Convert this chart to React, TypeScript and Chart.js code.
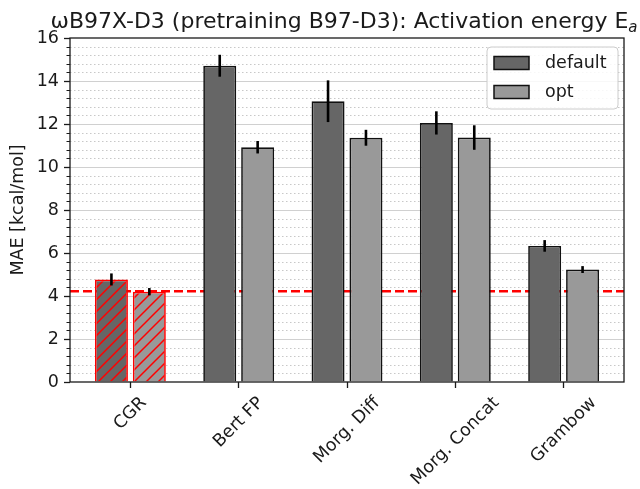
import React, { useEffect, useRef } from 'react';
import { Chart, registerables } from 'chart.js';

Chart.register(...registerables);

const categories = ['CGR', 'Bert FP', 'Morg. Diff', 'Morg. Concat', 'Grambow'];
const defaultMAE = [4.77, 14.71, 13.06, 12.05, 6.33];
const defaultErr = [0.28, 0.51, 0.97, 0.54, 0.27];
const optMAE = [4.2, 10.92, 11.36, 11.37, 5.23];
const optErr = [0.17, 0.29, 0.37, 0.57, 0.16];
const baselineMAE = 4.22;
const yMajorTicks = [0, 2, 4, 6, 8, 10, 12, 14, 16];
const yMinorStep = 0.4;
const seriesLabels = ['default', 'opt'];
const titleMain = 'ωB97X-D3 (pretraining B97-D3): Activation energy E';
const titleSub = 'a';
const yLabel = 'MAE [kcal/mol]';

const FONT = '"DejaVu Sans", sans-serif';
const FS = 17.5;
const DARK = '#666666';
const LIGHT = '#999999';
const INK = '#1a1a1a';

export default function App() {
  const ref = useRef<HTMLCanvasElement | null>(null);
  useEffect(() => {
    const canvas = ref.current!;
    const c2d = canvas.getContext('2d')!;
    const makeHatch = (base: string) => {
      const n = 12;
      const t = document.createElement('canvas');
      t.width = n; t.height = n;
      const g = t.getContext('2d')!;
      g.fillStyle = base; g.fillRect(0, 0, n, n);
      g.strokeStyle = '#ff0000'; g.lineWidth = 1.5;
      g.beginPath();
      g.moveTo(-1, n + 1); g.lineTo(n + 1, -1);
      g.moveTo(-1, 1); g.lineTo(1, -1);
      g.moveTo(n - 1, n + 1); g.lineTo(n + 1, n - 1);
      g.stroke();
      return c2d.createPattern(t, 'repeat')!;
    };
    const hatchDark = makeHatch(DARK);
    const hatchLight = makeHatch(LIGHT);
    const errs = [defaultErr, optErr];
    const vals = [defaultMAE, optMAE];

    const decor = {
      id: 'decor',
      beforeDatasetsDraw(chart: any) {
        const { ctx, chartArea: a, scales: { y } } = chart;
        ctx.save();
        const nMinor = Math.round(16 / yMinorStep);
        for (let k = 1; k < nMinor; k++) {
          const v = k * yMinorStep;
          const py = Math.round(y.getPixelForValue(v)) + 0.5;
          const major = Math.abs(v / 2 - Math.round(v / 2)) < 1e-6;
          ctx.beginPath();
          if (major) {
            ctx.setLineDash([]);
            ctx.strokeStyle = '#d0d0d0';
            ctx.lineWidth = 1.2;
          } else {
            ctx.setLineDash([1.5, 2.5]);
            ctx.strokeStyle = '#c8c8c8';
            ctx.lineWidth = 1.2;
          }
          ctx.moveTo(a.left, py);
          ctx.lineTo(a.right, py);
          ctx.stroke();
        }
        ctx.setLineDash([9, 4]);
        ctx.strokeStyle = '#ff0000';
        ctx.lineWidth = 2.5;
        const by = y.getPixelForValue(baselineMAE);
        ctx.beginPath();
        ctx.moveTo(a.left, by);
        ctx.lineTo(a.right, by);
        ctx.stroke();
        ctx.restore();
      },
      afterDatasetsDraw(chart: any) {
        const { ctx, chartArea: a, scales: { x, y } } = chart;
        ctx.save();
        ctx.strokeStyle = '#000';
        ctx.lineWidth = 2.6;
        for (let d = 0; d < 2; d++) {
          const meta = chart.getDatasetMeta(d);
          meta.data.forEach((el: any, i: number) => {
            const v = vals[d][i], e = errs[d][i];
            ctx.beginPath();
            ctx.moveTo(el.x, y.getPixelForValue(v + e));
            ctx.lineTo(el.x, y.getPixelForValue(v - e));
            ctx.stroke();
          });
        }
        ctx.strokeStyle = INK;
        ctx.lineWidth = 1.3;
        ctx.strokeRect(a.left, a.top, a.right - a.left, a.bottom - a.top);
        ctx.lineWidth = 1;
        const nMinor = Math.round(16 / yMinorStep);
        for (let k = 1; k < nMinor; k++) {
          const v = k * yMinorStep;
          if (Math.abs(v / 2 - Math.round(v / 2)) < 1e-6) continue;
          const py = Math.round(y.getPixelForValue(v)) + 0.5;
          ctx.beginPath();
          ctx.moveTo(a.left - 3.5, py);
          ctx.lineTo(a.left, py);
          ctx.stroke();
        }
        ctx.fillStyle = INK;
        ctx.font = FS + 'px ' + FONT;
        ctx.textAlign = 'center';
        ctx.textBaseline = 'middle';
        categories.forEach((lab, i) => {
          const tx = x.getPixelForValue(i);
          const w = ctx.measureText(lab).width;
          const h = FS * 1.164;
          const D = (w + h) / Math.SQRT2;
          ctx.save();
          ctx.translate(tx, a.bottom + 11 + D / 2);
          ctx.rotate(-Math.PI / 4);
          ctx.fillText(lab, 0, 0);
          ctx.restore();
        });
        ctx.save();
        ctx.translate(18, (a.top + a.bottom) / 2);
        ctx.rotate(-Math.PI / 2);
        ctx.fillText(yLabel, 0, 0);
        ctx.restore();
        ctx.font = '22px ' + FONT;
        const wMain = ctx.measureText(titleMain).width;
        ctx.font = 'italic 15px ' + FONT;
        const wSub = ctx.measureText(titleSub).width;
        const cx = (a.left + a.right) / 2 - 3;
        const startX = cx - (wMain + wSub) / 2;
        ctx.textAlign = 'left';
        ctx.textBaseline = 'alphabetic';
        ctx.font = '22px ' + FONT;
        ctx.fillText(titleMain, startX, 28);
        ctx.font = 'italic 15px ' + FONT;
        ctx.fillText(titleSub, startX + wMain, 32);
        const lx = 487, ly = 47, lw = 131, lh = 62;
        ctx.beginPath();
        ctx.roundRect(lx, ly, lw, lh, 4);
        ctx.fillStyle = 'rgba(255,255,255,0.85)';
        ctx.fill();
        ctx.strokeStyle = '#cccccc';
        ctx.lineWidth = 1;
        ctx.stroke();
        const rows = [63, 92];
        const cols = [DARK, LIGHT];
        ctx.font = FS + 'px ' + FONT;
        ctx.textBaseline = 'middle';
        rows.forEach((ry, r) => {
          ctx.fillStyle = cols[r];
          ctx.fillRect(494, ry - 6.5, 35, 13);
          ctx.strokeStyle = '#111';
          ctx.lineWidth = 1.5;
          ctx.strokeRect(494, ry - 6.5, 35, 13);
          ctx.fillStyle = INK;
          ctx.fillText(seriesLabels[r], 545, ry);
        });
        ctx.restore();
      },
    };

    const mk = (arr: number[]) => arr.map((v, i) => ({ x: i, y: v }));
    const chart = new Chart(canvas, {
      type: 'bar',
      data: {
        datasets: [
          {
            label: seriesLabels[0],
            data: mk(defaultMAE) as any,
            backgroundColor: (c: any) => (c.dataIndex === 0 ? hatchDark : DARK),
            borderColor: (c: any) => (c.dataIndex === 0 ? '#ff0000' : '#111111'),
            borderWidth: 1.7,
          },
          {
            label: seriesLabels[1],
            data: mk(optMAE) as any,
            backgroundColor: (c: any) => (c.dataIndex === 0 ? hatchLight : LIGHT),
            borderColor: (c: any) => (c.dataIndex === 0 ? '#ff0000' : '#111111'),
            borderWidth: 1.7,
          },
        ],
      },
      options: {
        animation: false,
        responsive: false,
        devicePixelRatio: 1,
        layout: { padding: { top: 38, right: 16, left: 0, bottom: 0 } },
        datasets: { bar: { categoryPercentage: 0.7, barPercentage: 0.87, grouped: true } } as any,
        plugins: { legend: { display: false }, title: { display: false }, tooltip: { enabled: false } },
        scales: {
          x: {
            type: 'linear',
            min: -0.5575,
            max: 4.5575,
            offset: false,
            afterBuildTicks: (s: any) => { s.ticks = categories.map((_, i) => ({ value: i })); },
            afterFit: (s: any) => { s.height = 107; },
            ticks: { display: false },
            grid: { display: true, offset: false, drawOnChartArea: false, drawTicks: true, tickLength: 6, tickColor: INK, tickWidth: 1.3 },
            border: { display: false },
          },
          y: {
            type: 'linear',
            min: 0,
            max: 16,
            afterBuildTicks: (s: any) => { s.ticks = yMajorTicks.map((v) => ({ value: v })); },
            afterFit: (s: any) => { s.width = 70; },
            ticks: { color: INK, font: { family: FONT, size: FS }, padding: 5 },
            grid: { display: true, drawOnChartArea: false, drawTicks: true, tickLength: 6, tickColor: INK, tickWidth: 1.3 },
            border: { display: false },
          },
        },
      },
      plugins: [decor],
    });
    return () => chart.destroy();
  }, []);
  return (
    <div style={{ position: 'fixed', left: 0, top: 0, width: 640, height: 489, background: '#fff' }}>
      <canvas ref={ref} width={640} height={489} style={{ display: 'block' }} />
    </div>
  );
}
